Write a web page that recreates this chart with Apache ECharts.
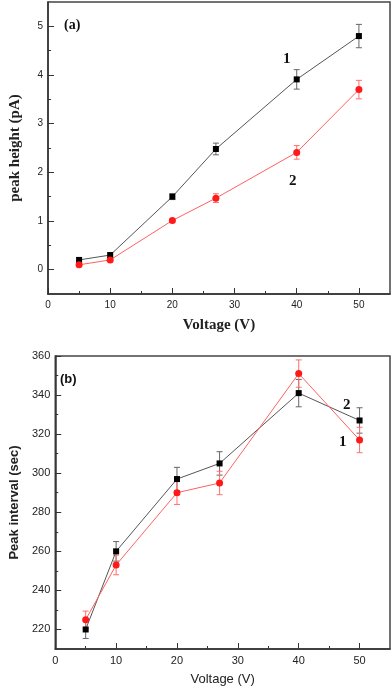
<!DOCTYPE html>
<html>
<head>
<meta charset="utf-8">
<script src="https://cdn.jsdelivr.net/npm/echarts@6/dist/echarts.min.js"></script>
<style>
  html, body { margin: 0; padding: 0; background: #fff; }
  #chart { width: 392px; height: 689px; }
</style>
</head>
<body>
<div id="chart"></div>
<script>
// data
const voltage = [5, 10, 20, 27, 40, 50];

// (a) peak height (pA)
const heightS1 = [0.2, 0.3, 1.5, 2.48, 3.91, 4.8];
const heightS1Err = [0.05, 0.05, 0.06, 0.12, 0.2, 0.24];
const heightS2 = [0.1, 0.2, 1.01, 1.47, 2.41, 3.7];
const heightS2Err = [0.03, 0.03, 0.04, 0.09, 0.14, 0.19];

// (b) peak interval (sec)
const intervalBlack = [220, 260, 297, 305, 341, 327];
const intervalBlackErr = [4.6, 5, 6, 6, 7, 6.5];
const intervalRed = [225, 253, 290, 295, 351, 317];
const intervalRedErr = [4.4, 5, 6, 6, 7, 6.5];

// ticks
const xMajor = [0, 10, 20, 30, 40, 50];
const xMinor = [5, 15, 25, 35, 45];
const yMajorA = [0, 1, 2, 3, 4, 5];
const yMinorA = [0.5, 1.5, 2.5, 3.5, 4.5];
const yMajorB = [220, 240, 260, 280, 300, 320, 340, 360];
const yMinorB = [230, 250, 270, 290, 310, 330, 350];

const AXIS = "#333";
const SERIF = "'Liberation Serif', 'DejaVu Serif', serif";
const SANS = "'Liberation Sans', Arial, sans-serif";

const chart = echarts.init(document.getElementById("chart"));

const xAxisPair = (grid, name, nameStyle, nameGap) => [
  {
    gridIndex: grid, type: "value", min: 0, max: 55, interval: 5, position: "bottom",
    name: name, nameLocation: "middle", nameGap: nameGap, nameTextStyle: nameStyle,
    axisLine: { onZero: false, lineStyle: { color: AXIS, width: 1.5 } },
    axisTick: { inside: true, length: 6, customValues: xMajor, lineStyle: { color: AXIS } },
    axisLabel: { customValues: xMajor, fontSize: grid === 0 ? 10 : 11, color: "#222", margin: 6, fontFamily: SANS },
    splitLine: { show: false },
  },
  {
    gridIndex: grid, type: "value", min: 0, max: 55, interval: 5, position: "bottom",
    axisLine: { show: false, onZero: false },
    axisTick: { inside: true, length: 3, customValues: xMinor, lineStyle: { color: AXIS } },
    axisLabel: { show: false },
    splitLine: { show: false },
  },
];

const yAxisPair = (grid, min, max, interval, major, minor, name, nameStyle, nameGap, fs) => [
  {
    gridIndex: grid, type: "value", min: min, max: max, interval: interval, position: "left",
    name: name, nameLocation: "middle", nameGap: nameGap, nameTextStyle: nameStyle,
    axisLine: { show: true, onZero: false, lineStyle: { color: AXIS, width: 1.5 } },
    axisTick: { inside: true, length: 6, customValues: major, lineStyle: { color: AXIS } },
    axisLabel: { customValues: major, fontSize: fs, color: "#222", margin: 5, fontFamily: SANS },
    splitLine: { show: false },
  },
  {
    gridIndex: grid, type: "value", min: min, max: max, interval: interval, position: "left",
    axisLine: { show: false, onZero: false },
    axisTick: { inside: true, length: 3, customValues: minor, lineStyle: { color: AXIS } },
    axisLabel: { show: false },
    splitLine: { show: false },
  },
];

const errorBars = (xi, yi, values, errs, color) => ({
  type: "custom",
  xAxisIndex: xi,
  yAxisIndex: yi,
  silent: true,
  z: 1,
  data: voltage.map((v, i) => [v, values[i] - errs[i], values[i] + errs[i]]),
  encode: { x: 0, y: [1, 2] },
  renderItem: (params, api) => {
    const top = api.coord([api.value(0), api.value(2)]);
    const bot = api.coord([api.value(0), api.value(1)]);
    const w = 3;
    const style = { stroke: color, lineWidth: 1 };
    return {
      type: "group",
      children: [
        { type: "line", shape: { x1: top[0], y1: top[1], x2: bot[0], y2: bot[1] }, style },
        { type: "line", shape: { x1: top[0] - w, y1: top[1], x2: top[0] + w, y2: top[1] }, style },
        { type: "line", shape: { x1: bot[0] - w, y1: bot[1], x2: bot[0] + w, y2: bot[1] }, style },
      ],
    };
  },
});

const lineSeries = (xi, yi, values, kind) => ({
  type: "line",
  xAxisIndex: xi,
  yAxisIndex: yi,
  z: 3,
  data: voltage.map((v, i) => [v, values[i]]),
  symbol: kind === "black" ? "rect" : "circle",
  symbolSize: kind === "black" ? 6 : 7,
  itemStyle: { color: kind === "black" ? "#000" : "#ff1a1a" },
  lineStyle: { color: kind === "black" ? "#555" : "#ff6060", width: 1 },
  animation: false,
});

const option = {
  animation: false,
  grid: [
    { left: 43, right: 2, top: 2, height: 292, show: true, borderColor: "#444", borderWidth: 1.5 },
    { left: 43, right: 2, top: 356, height: 293, show: true, borderColor: "#444", borderWidth: 1.5 },
  ],
  xAxis: [
    ...xAxisPair(0, "Voltage (V)", { fontFamily: SERIF, fontWeight: "bold", fontSize: 15, color: "#222" }, 24),
    ...xAxisPair(1, "Voltage (V)", { fontFamily: SANS, fontSize: 13, color: "#222" }, 24),
  ],
  yAxis: [
    ...yAxisPair(0, -0.5, 5.5, 0.5, yMajorA, yMinorA, "peak height (pA)",
      { fontFamily: SERIF, fontWeight: "bold", fontSize: 15, color: "#222" }, 25, 10),
    ...yAxisPair(1, 210, 360, 10, yMajorB, yMinorB, "Peak interval (sec)",
      { fontFamily: SANS, fontWeight: "bold", fontSize: 13, color: "#222" }, 29, 11),
  ],
  series: [
    errorBars(0, 0, heightS1, heightS1Err, "#666"),
    errorBars(0, 0, heightS2, heightS2Err, "#ff7070"),
    lineSeries(0, 0, heightS1, "black"),
    lineSeries(0, 0, heightS2, "red"),
    errorBars(2, 2, intervalBlack, intervalBlackErr, "#666"),
    errorBars(2, 2, intervalRed, intervalRedErr, "#ff7070"),
    lineSeries(2, 2, intervalBlack, "black"),
    lineSeries(2, 2, intervalRed, "red"),
  ],
  graphic: [
    { type: "text", left: 64, top: 18, style: { text: "(a)", font: "bold 14px " + SERIF, fill: "#111" } },
    { type: "text", left: 283, top: 52, style: { text: "1", font: "bold 15px " + SERIF, fill: "#111" } },
    { type: "text", left: 289, top: 174, style: { text: "2", font: "bold 15px " + SERIF, fill: "#111" } },
    { type: "text", left: 60, top: 373, style: { text: "(b)", font: "bold 13px " + SANS, fill: "#111" } },
    { type: "text", left: 343, top: 398, style: { text: "2", font: "bold 15px " + SERIF, fill: "#111" } },
    { type: "text", left: 339, top: 435, style: { text: "1", font: "bold 15px " + SERIF, fill: "#111" } },
  ],
};

chart.setOption(option);
</script>
</body>
</html>
